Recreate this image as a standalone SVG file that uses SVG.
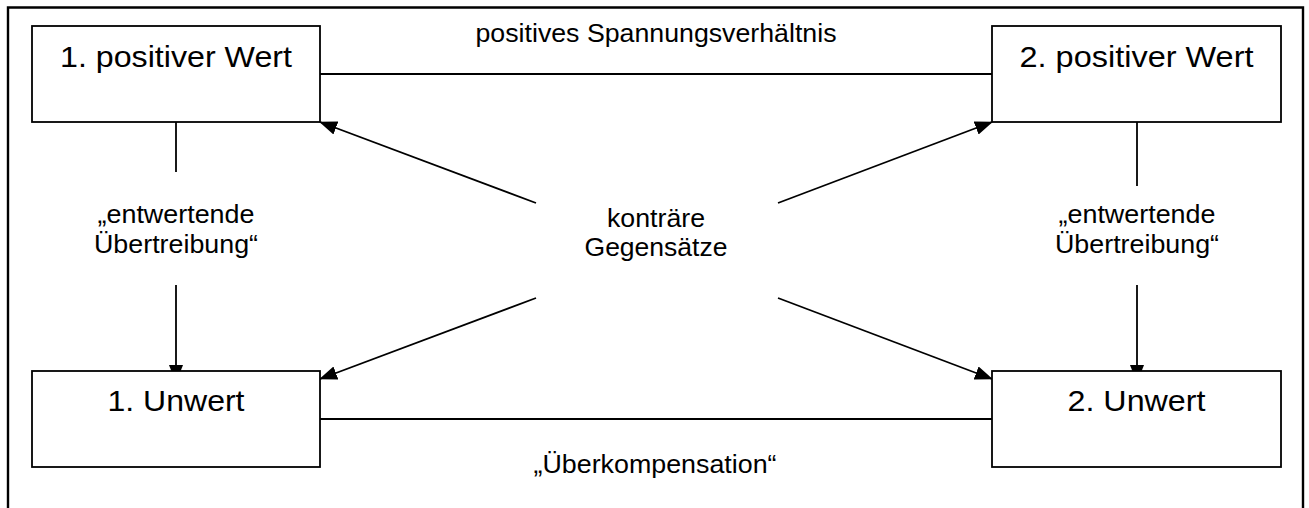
<svg xmlns="http://www.w3.org/2000/svg" width="1309" height="508" viewBox="0 0 1309 508">
<style>
.box{fill:#fff;stroke:#000;stroke-width:1.8}
.ln{fill:none;stroke:#000;stroke-width:1.8}
.t{font-family:"Liberation Sans",Arial,sans-serif;fill:#000}
.big{font-size:30px;text-anchor:middle}
.sm{font-size:25.5px;text-anchor:middle}
</style>
<defs>
<marker id="ah" markerWidth="18" markerHeight="14" refX="17" refY="7" orient="auto" markerUnits="userSpaceOnUse">
<path d="M0,0 L18,7 L0,14 Z" fill="#000"/>
</marker>
</defs>
<rect width="1309" height="508" fill="#fff"/>
<path d="M8,508 V7.5 H1303 V508" fill="none" stroke="#000" stroke-width="2.4"/>
<g id="connectors">
<line class="ln" x1="320" y1="74" x2="992" y2="74"/>
<line class="ln" x1="320" y1="419" x2="992" y2="419"/>
<line class="ln" x1="176" y1="118" x2="176" y2="172"/>
<line class="ln" x1="176" y1="285" x2="176" y2="382" marker-end="url(#ah)"/>
<line class="ln" x1="1137" y1="118" x2="1137" y2="186"/>
<line class="ln" x1="1137" y1="285" x2="1137" y2="382" marker-end="url(#ah)"/>
<line class="ln" x1="536" y1="203" x2="320" y2="122" marker-end="url(#ah)"/>
<line class="ln" x1="778" y1="203" x2="992" y2="122" marker-end="url(#ah)"/>
<line class="ln" x1="536" y1="298" x2="320" y2="379" marker-end="url(#ah)"/>
<line class="ln" x1="778" y1="298" x2="992" y2="379" marker-end="url(#ah)"/>
</g>
<g id="n1">
<rect class="box" x="32" y="26" width="288" height="96"/>
<text class="t big" x="176" y="67" textLength="232" lengthAdjust="spacingAndGlyphs">1. positiver Wert</text>
</g>
<g id="n2">
<rect class="box" x="992" y="26" width="289" height="96"/>
<text class="t big" x="1136.5" y="67" textLength="234" lengthAdjust="spacingAndGlyphs">2. positiver Wert</text>
</g>
<g id="n3">
<rect class="box" x="32" y="371" width="288" height="96"/>
<text class="t big" x="176" y="411" textLength="137" lengthAdjust="spacingAndGlyphs">1. Unwert</text>
</g>
<g id="n4">
<rect class="box" x="992" y="371" width="289" height="96"/>
<text class="t big" x="1136.5" y="411" textLength="138" lengthAdjust="spacingAndGlyphs">2. Unwert</text>
</g>
<g id="labels">
<text class="t sm" x="656" y="42" textLength="361" lengthAdjust="spacingAndGlyphs">positives Spannungsverhältnis</text>
<text class="t sm" x="176" y="223" textLength="157" lengthAdjust="spacingAndGlyphs">„entwertende</text>
<text class="t sm" x="176" y="253" textLength="164" lengthAdjust="spacingAndGlyphs">Übertreibung“</text>
<text class="t sm" x="1137" y="223" textLength="157" lengthAdjust="spacingAndGlyphs">„entwertende</text>
<text class="t sm" x="1137" y="253" textLength="164" lengthAdjust="spacingAndGlyphs">Übertreibung“</text>
<text class="t sm" x="656" y="227" textLength="98" lengthAdjust="spacingAndGlyphs">konträre</text>
<text class="t sm" x="656" y="256" textLength="143" lengthAdjust="spacingAndGlyphs">Gegensätze</text>
<text class="t sm" x="655" y="473" textLength="243" lengthAdjust="spacingAndGlyphs">„Überkompensation“</text>
</g>
</svg>
